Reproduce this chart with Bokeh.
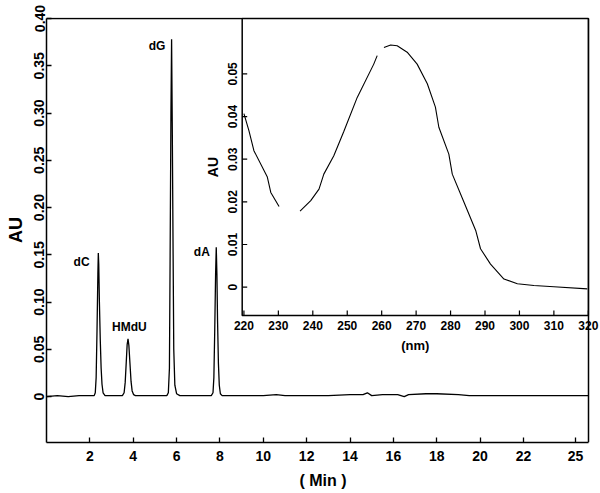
import math
from bokeh.plotting import figure
from bokeh.models import Range1d, FixedTicker, ColumnDataSource
from bokeh.embed import file_html
from bokeh.resources import INLINE
from bokeh.core.properties import value

NAN = float("nan")

# ---- chromatogram (main plot) ----
time_min = [0.0, 0.5, 1.0, 1.5, 2.0,
            2.20, 2.25, 2.29, 2.33, 2.37, 2.39, 2.41, 2.44, 2.48, 2.52, 2.56, 2.61, 2.70,
            3.0,
            3.50, 3.58, 3.63, 3.68, 3.72, 3.76, 3.80, 3.85, 3.90, 3.95, 4.02, 4.10,
            4.5, 5.0,
            5.55, 5.62, 5.67, 5.70, 5.74, 5.77, 5.80, 5.84, 5.87, 5.92, 6.00, 6.15,
            6.5, 7.0,
            7.60, 7.68, 7.72, 7.76, 7.80, 7.83, 7.86, 7.89, 7.93, 7.97, 8.02, 8.10,
            9.0, 10.0, 10.6, 11.0, 12.0, 13.0, 14.0, 14.6, 14.8, 15.0, 15.5, 16.2,
            16.5, 16.7, 17.5, 18.0, 19.0, 19.5, 20.0, 21.0, 22.0, 23.0, 24.0, 25.0]
absorb_au = [0.000, 0.001, 0.000, 0.001, 0.001,
             0.001, 0.004, 0.020, 0.070, 0.130, 0.152, 0.140, 0.100, 0.060, 0.030, 0.013, 0.004, 0.001,
             0.001,
             0.001, 0.004, 0.015, 0.037, 0.055, 0.061, 0.054, 0.035, 0.016, 0.006, 0.002, 0.001,
             0.001, 0.001,
             0.001, 0.004, 0.030, 0.140, 0.300, 0.378, 0.290, 0.150, 0.050, 0.012, 0.003, 0.001,
             0.001, 0.001,
             0.001, 0.004, 0.020, 0.070, 0.130, 0.158, 0.130, 0.080, 0.035, 0.012, 0.003, 0.001,
             0.001, 0.001, 0.002, 0.001, 0.001, 0.001, 0.002, 0.002, 0.004, 0.001, 0.002, 0.002,
             0.000, 0.002, 0.003, 0.003, 0.002, 0.001, 0.001, 0.001, 0.001, 0.001, 0.001, 0.001]

peak_names = ["dC", "HMdU", "dG", "dA"]
peak_times = [2.39, 3.76, 5.77, 7.83]
peak_heights = [0.152, 0.061, 0.378, 0.158]

x_ticks = [2, 4, 6, 8, 10, 12, 14, 16, 18, 20, 22, 24.4]
x_tick_labels = ["2", "4", "6", "8", "10", "12", "14", "16", "18", "20", "22", "25"]
y_ticks = [0, 0.05, 0.10, 0.15, 0.20, 0.25, 0.30, 0.35, 0.40]
y_tick_labels = ["0", "0.05", "0.10", "0.15", "0.20", "0.25", "0.30", "0.35", "0.40"]

# ---- UV spectrum (inset) ----
wl_nm = [220.0, 221.45, 222.9, 226.8, 227.8, 230.2, NAN,
         236.3, 239.4, 241.8, 243.2, 246.1, 249.0, 252.9, 257.7, 258.7, NAN,
         260.65, 262.6, 264.5, 267.4, 270.3, 273.25, 275.6, 276.6, 279.5, 280.5,
         283.9, 287.3, 288.7, 291.6, 295.5, 299.4, 304.2, 310.0, 319.7]
spec_au = [0.0407, 0.0367, 0.0320, 0.0258, 0.0222, 0.0189, NAN,
           0.0178, 0.0203, 0.0230, 0.0265, 0.0308, 0.0365, 0.0445, 0.0523, 0.0543, NAN,
           0.0562, 0.0568, 0.0566, 0.0551, 0.0523, 0.0477, 0.0422, 0.0375, 0.0312, 0.0265,
           0.0199, 0.0133, 0.0090, 0.0054, 0.0019, 0.0008, 0.0004, 0.0001, -0.0004]
inset_x_ticks = [220, 230, 240, 250, 260, 270, 280, 290, 300, 310, 320]
inset_x_labels = [str(v) for v in inset_x_ticks]
inset_y_ticks = [0, 0.01, 0.02, 0.03, 0.04, 0.05]
inset_y_labels = ["0", "0.01", "0.02", "0.03", "0.04", "0.05"]

# ---- layout ----
FONT_NAME = "Liberation Sans"
FONT = value(FONT_NAME)
W, H = 600, 493
# the plotting frame is widened (right) and raised (top) a little so that
# labels at the box edge are not clipped; the visible box is drawn by hand
BL, BR, BT, BB = 46, 1, 17, 51
FW, FH = W - BL - BR, H - BT - BB
BOX_W, BOX_H = 542, 424            # visible chart box in pixels

main_x0, main_x1 = 0.0, 25.0
main_y0, main_y1 = -0.0486, 0.40
sx = BOX_W / (main_x1 - main_x0)   # px per minute
sy = BOX_H / (main_y1 - main_y0)   # px per AU
x_main = Range1d(main_x0, main_x0 + FW / sx)
y_main = Range1d(main_y0, main_y0 + FH / sy)

# inset box (in nm / AU) and its scales
inset_left, inset_right = 219.5, 320.0
inset_bottom, inset_top = -0.00668, 0.0630
s_nm = 3.444        # px per nm
s_au2 = 4264.0      # px per AU (inset)
inset_left_px = 195.7   # inset left edge measured from chart box left
nm0 = inset_left - inset_left_px / s_nm
nm_range = Range1d(nm0, nm0 + FW / s_nm)
au2_0 = inset_bottom - (BOX_H - (inset_top - inset_bottom) * s_au2) / s_au2
au2_range = Range1d(au2_0, au2_0 + FH / s_au2)

p = figure(width=W, height=H, x_range=x_main, y_range=y_main,
           output_backend="svg", toolbar_location=None,
           min_border_left=BL, min_border_right=BR, min_border_top=BT, min_border_bottom=BB)
p.extra_x_ranges = {"nm": nm_range}
p.extra_y_ranges = {"au2": au2_range}
p.background_fill_color = "white"
p.border_fill_color = "white"
p.xgrid.visible = False
p.ygrid.visible = False
p.outline_line_color = None

for ax in (p.xaxis[0], p.yaxis[0]):
    ax.axis_line_width = 1.5
    ax.axis_line_color = "black"
    ax.major_tick_in = 5
    ax.major_tick_out = 0
    ax.major_tick_line_width = 1.3
    ax.minor_tick_line_color = None
    ax.major_label_text_font = FONT_NAME
    ax.major_label_text_font_style = "bold"
    ax.major_label_text_font_size = "14px"
    ax.major_label_text_color = "black"
    ax.axis_label_text_font = FONT_NAME
    ax.axis_label_text_font_style = "bold"
    ax.axis_label_text_color = "black"

p.xaxis.ticker = FixedTicker(ticks=x_ticks)
p.xaxis.bounds = (main_x0, main_x1)
p.xaxis.major_label_overrides = dict(zip(x_ticks, x_tick_labels))
p.xaxis.major_label_standoff = 8
p.xaxis.axis_label = "( Min )"
p.xaxis.axis_label_text_font_size = "16px"
p.xaxis.axis_label_standoff = 8

p.yaxis.ticker = FixedTicker(ticks=y_ticks)
p.yaxis.bounds = (main_y0, main_y1)
p.yaxis.major_label_overrides = dict(zip(y_ticks, y_tick_labels))
p.yaxis.major_label_orientation = "vertical"
p.yaxis.major_label_standoff = 2
p.yaxis.axis_label = "AU"
p.yaxis.axis_label_text_font_size = "18px"
p.yaxis.axis_label_standoff = 6

# top and right sides of the chart box
p.segment(x0=[main_x0, main_x1], y0=[main_y1, main_y0], x1=[main_x1, main_x1], y1=[main_y1, main_y1],
          line_color="black", line_width=1.5)

p.line(time_min, absorb_au, line_color="black", line_width=1.3)

lab_dx = [-16.7, 1.4, -14.5, -14.4]
lab_dy = [8.8, -12.0, 7.0, 5.0]
src_lab = ColumnDataSource(dict(x=peak_times, y=peak_heights, t=peak_names, dx=lab_dx, dy=lab_dy))
p.text(x="x", y="y", text="t", x_offset="dx", y_offset="dy", source=src_lab,
       text_font=FONT, text_font_style="bold", text_font_size="12px", text_color="black",
       text_align="center", text_baseline="middle")

p.quad(left=[inset_left], right=[inset_right], bottom=[inset_bottom], top=[inset_top],
       x_range_name="nm", y_range_name="au2",
       fill_color="white", line_color="black", line_width=1.5)

tick_len_y = 5 / s_au2
tick_len_x = 5 / s_nm
p.segment(x0=inset_x_ticks, y0=[inset_bottom] * len(inset_x_ticks),
          x1=inset_x_ticks, y1=[inset_bottom + tick_len_y] * len(inset_x_ticks),
          x_range_name="nm", y_range_name="au2", line_color="black", line_width=1.2)
p.segment(x0=[inset_left] * len(inset_y_ticks), y0=inset_y_ticks,
          x1=[inset_left + tick_len_x] * len(inset_y_ticks), y1=inset_y_ticks,
          x_range_name="nm", y_range_name="au2", line_color="black", line_width=1.2)

p.text(x=inset_x_ticks, y=[inset_bottom] * len(inset_x_ticks), text=inset_x_labels,
       x_range_name="nm", y_range_name="au2", y_offset=10,
       text_font=FONT, text_font_style="bold", text_font_size="12px", text_color="black",
       text_align="center", text_baseline="middle")
p.text(x=[inset_left] * len(inset_y_ticks), y=inset_y_ticks, text=inset_y_labels,
       x_range_name="nm", y_range_name="au2", x_offset=-10, angle=math.pi / 2,
       text_font=FONT, text_font_style="bold", text_font_size="12px", text_color="black",
       text_align="center", text_baseline="middle")

p.text(x=[inset_left], y=[(inset_bottom + inset_top) / 2], text=["AU"],
       x_range_name="nm", y_range_name="au2", x_offset=-29.7, angle=math.pi / 2,
       text_font=FONT, text_font_style="bold", text_font_size="14px", text_color="black",
       text_align="center", text_baseline="middle")
p.text(x=[(inset_left + inset_right) / 2], y=[inset_bottom], text=["(nm)"],
       x_range_name="nm", y_range_name="au2", y_offset=30,
       text_font=FONT, text_font_style="bold", text_font_size="13px", text_color="black",
       text_align="center", text_baseline="middle")

p.line(wl_nm, spec_au, x_range_name="nm", y_range_name="au2",
       line_color="black", line_width=1.1)

open("out.html", "w").write(file_html(p, INLINE))
